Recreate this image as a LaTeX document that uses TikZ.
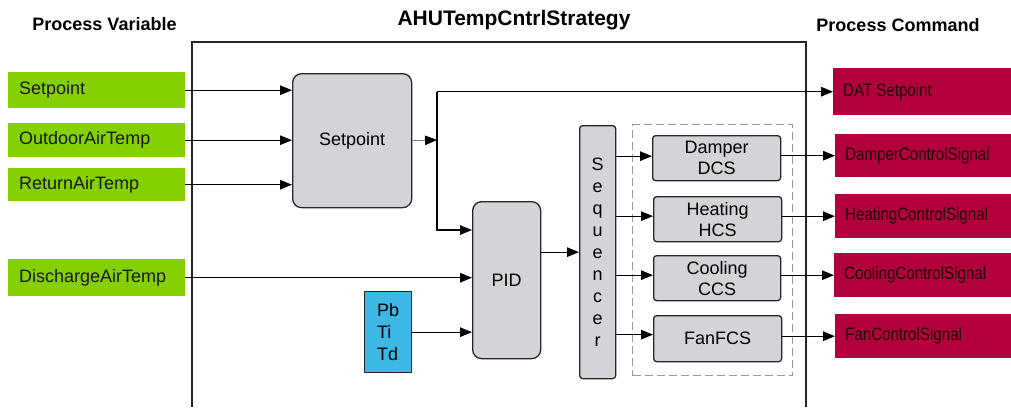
\documentclass[tikz,border=0pt]{standalone}
\usepackage{fontspec}
\setmainfont{Liberation Sans}
\newfontfamily\narrowfont{Liberation Sans}[FakeStretch=0.84]
\usetikzlibrary{arrows.meta}

\definecolor{pvgreen}{HTML}{84D000}
\definecolor{blockgray}{HTML}{D4D3D8}
\definecolor{parblue}{HTML}{3DB7E4}
\definecolor{cmdred}{HTML}{B2003D}
\definecolor{cmdtext}{HTML}{1E0008}
\definecolor{edge}{HTML}{262626}

\tikzset{
  arr/.style={-{Triangle[length=12pt,width=9.5pt]}, line width=1.3pt, draw=black},
  pvbox/.style={fill=pvgreen, anchor=north west, inner xsep=11pt, align=left,
                text=black!90, font=\fontsize{18}{22}\selectfont},
  cmdbox/.style={fill=cmdred, anchor=north west, inner xsep=10pt, align=left,
                 text=cmdtext, font=\narrowfont\fontsize{18}{22}\selectfont},
  bigblock/.style={draw=edge, fill=blockgray, line width=1.3pt, rounded corners=9pt,
                   anchor=north west, align=center},
  smallblock/.style={draw=edge, fill=blockgray, line width=1.3pt, rounded corners=3pt,
                     anchor=north west, align=center, inner sep=0pt},
  title/.style={font=\bfseries\fontsize{18}{22}\selectfont, anchor=base},
}

\begin{document}
\begin{tikzpicture}[x=1pt, y=-1pt, font=\fontsize{18}{22}\selectfont]
\useasboundingbox (0,0) rectangle (1011,407);

% headings
\node[title] (tpv) at (104.5,30.5) {Process Variable};
\node[title, font=\bfseries\fontsize{21}{24}\selectfont] (tahu) at (514,25) {AHUTempCntrlStrategy};
\node[title] (tpc) at (898,31) {Process Command};

% strategy frame, open at the bottom
\draw[edge, line width=1.5pt] (192,407) -- (192,42) -- (806,42) -- (806,407);

% process variables
\node[pvbox, text width=155pt, minimum height=36pt] (gset) at (8,72) {Setpoint};
\node[pvbox, text width=155pt, minimum height=34pt] (gout) at (8,123) {OutdoorAirTemp};
\node[pvbox, text width=155pt, minimum height=33pt] (gret) at (8,168) {ReturnAirTemp};
\node[pvbox, text width=155pt, minimum height=37pt] (gdis) at (8,259) {DischargeAirTemp};

% internal blocks
\node[bigblock, minimum width=119pt, minimum height=134pt] (spb) at (292,73) {Setpoint};
\node[bigblock, minimum width=68pt, minimum height=157pt] (pid) at (472,201) {PID};
\node[draw=edge, fill=parblue, line width=1.3pt, anchor=north west, align=left,
      minimum width=47pt, minimum height=81pt, inner sep=0pt] (pb) at (364,291) {Pb\\Ti\\Td};
\node[smallblock, minimum width=36pt, minimum height=253pt] (seq) at (579,125)
  {S\\e\\q\\u\\e\\n\\c\\e\\r};

% grouped control signal blocks
\node[draw=gray!80, dashed, dash pattern=on 8pt off 4pt, line width=1.2pt,
      anchor=north west, minimum width=160pt, minimum height=251pt, inner sep=0pt] (grp) at (632,124) {};
\node[smallblock, minimum width=128pt, minimum height=45pt, font=\fontsize{18}{21}\selectfont] (dmp) at (652,135) {Damper\\DCS};
\node[smallblock, minimum width=128pt, minimum height=45pt, font=\fontsize{18}{21}\selectfont] (heat) at (653,196) {Heating\\HCS};
\node[smallblock, minimum width=127pt, minimum height=45pt, font=\fontsize{18}{21}\selectfont] (cool) at (653,255) {Cooling\\CCS};
\node[smallblock, minimum width=128pt, minimum height=46pt] (fan) at (653,315) {FanFCS};

% process commands
\node[cmdbox, text width=158pt, minimum height=47pt] (dat) at (833,68) {DAT\hspace{4pt}Setpoint};
\node[cmdbox, text width=156pt, minimum height=43pt] (dcs) at (835,134) {DamperControlSignal};
\node[cmdbox, text width=156pt, minimum height=44pt] (hcs) at (835,194) {HeatingControlSignal};
\node[cmdbox, text width=157pt, minimum height=44pt] (ccs) at (834,253) {CoolingControlSignal};
\node[cmdbox, text width=156pt, minimum height=44pt] (fcs) at (835,314) {FanControlSignal};

% inputs to the setpoint block
\draw[arr] (gset.east) -- (gset.east -| spb.west);
\draw[arr] (gout.east) -- (gout.east -| spb.west);
\draw[arr] (gret.east) -- (gret.east -| spb.west);

% setpoint output and its branches
\coordinate (jn) at (437,140);
\coordinate (jb) at (437,230);
\draw[-{Triangle[length=12pt,width=9.5pt,black]}, line width=0.8pt, draw=gray] (spb.east) -- (jn);
\draw[arr] (dat.west -| jn) -- (dat.west);
\draw[arr] (dat.west -| jn) |- (jb -| pid.west);

% PID inputs and output
\draw[arr] (gdis.east) -- (gdis.east -| pid.west);
\draw[arr] (pb.east) -- (pb.east -| pid.west);
\draw[arr] (seq.west -| pid.east) -- (seq.west);

% sequencer outputs
\draw[arr] ([yshift=2pt]dmp.west -| seq.east) -- ([yshift=2pt]dmp.west);
\draw[arr] ([yshift=3pt]heat.west -| seq.east) -- ([yshift=3pt]heat.west);
\draw[arr] ([yshift=3pt]cool.west -| seq.east) -- ([yshift=3pt]cool.west);
\draw[arr] ([yshift=4pt]fan.west -| seq.east) -- ([yshift=4pt]fan.west);

% control signals out
\draw[arr] (dmp.east |- dcs.west) -- (dcs.west);
\draw[arr] (heat.east |- hcs.west) -- (hcs.west);
\draw[arr] (cool.east |- ccs.west) -- (ccs.west);
\draw[arr] (fan.east |- fcs.west) -- (fcs.west);
\end{tikzpicture}
\end{document}
